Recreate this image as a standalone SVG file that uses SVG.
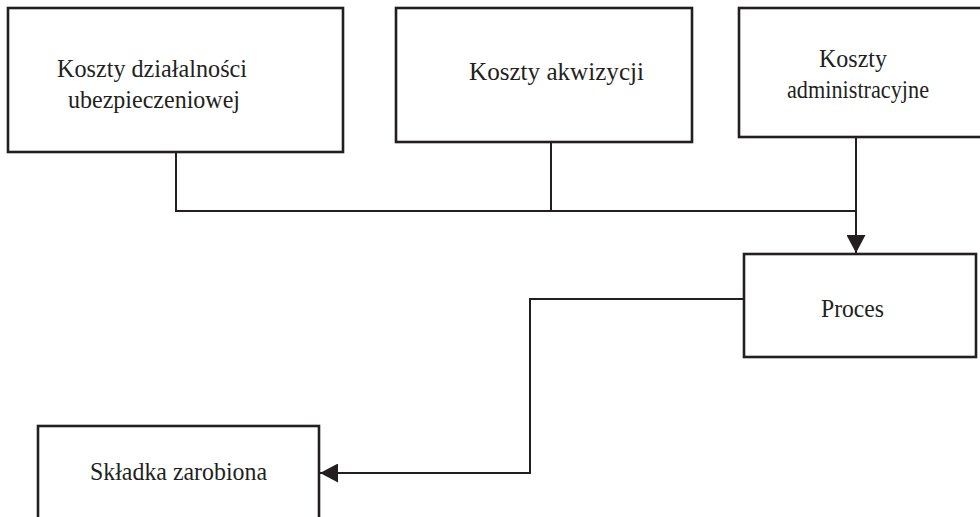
<svg xmlns="http://www.w3.org/2000/svg" width="980" height="517" viewBox="0 0 980 517">
<style>
.box{fill:#fff;stroke:#231f20;stroke-width:2.6}
.lbl{font-family:"Liberation Serif","Times New Roman",serif;font-size:26px;fill:#231f20}
.con{fill:none;stroke:#231f20;stroke-width:2}
</style>
<defs>
<marker id="arrB" viewBox="0 0 10 10" refX="10" refY="5" markerWidth="18" markerHeight="19" markerUnits="userSpaceOnUse" orient="auto" preserveAspectRatio="none">
<path d="M0,0 L10,5 L0,10 Z" fill="#231f20"/>
</marker>
</defs>
<rect width="980" height="517" fill="#fff"/>
<g id="connectors">
<path class="con" d="M176,152 V211 H856"/>
<path class="con" d="M551,142 V211"/>
<path class="con" d="M856,137 V253" marker-end="url(#arrB)"/>
<path class="con" d="M744,299 H530 V473 H320" marker-end="url(#arrB)"/>
</g>
<g id="n1">
<rect class="box" x="8" y="8" width="335" height="144"/>
<text class="lbl" x="57" y="77" textLength="190" lengthAdjust="spacingAndGlyphs">Koszty działalności</text>
<text class="lbl" x="68" y="108" textLength="172" lengthAdjust="spacingAndGlyphs">ubezpieczeniowej</text>
</g>
<g id="n2">
<rect class="box" x="396" y="8" width="296" height="134"/>
<text class="lbl" x="469" y="80" textLength="175" lengthAdjust="spacingAndGlyphs">Koszty akwizycji</text>
</g>
<g id="n3">
<rect class="box" x="739" y="8" width="245" height="129"/>
<text class="lbl" x="819" y="67" textLength="68" lengthAdjust="spacingAndGlyphs">Koszty</text>
<text class="lbl" x="787" y="98" textLength="142" lengthAdjust="spacingAndGlyphs">administracyjne</text>
</g>
<g id="n4">
<rect class="box" x="744" y="254" width="232" height="103"/>
<text class="lbl" x="821" y="317" textLength="63" lengthAdjust="spacingAndGlyphs">Proces</text>
</g>
<g id="n5">
<rect class="box" x="38" y="426" width="281" height="100"/>
<text class="lbl" x="90" y="480" textLength="177" lengthAdjust="spacingAndGlyphs">Składka zarobiona</text>
</g>
</svg>
